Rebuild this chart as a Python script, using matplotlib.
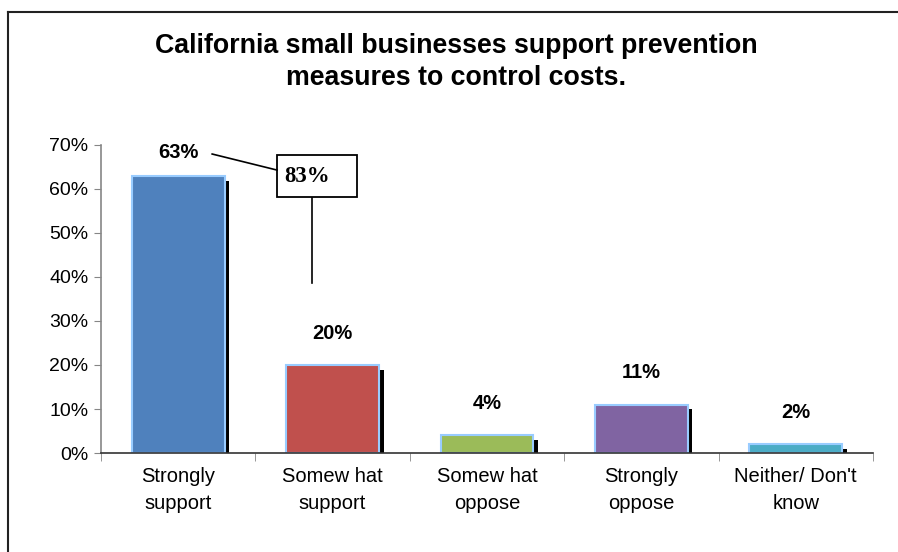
import matplotlib.pyplot as plt
from matplotlib.lines import Line2D
from matplotlib.patches import Rectangle
from matplotlib.ticker import PercentFormatter

plt.rcParams['font.family'] = ['Liberation Sans', 'DejaVu Sans']

# data
categories = ["Strongly\nsupport", "Somew hat\nsupport", "Somew hat\noppose",
              "Strongly\noppose", "Neither/ Don't\nknow"]
values = [0.63, 0.20, 0.04, 0.11, 0.02]
labels = ["63%", "20%", "4%", "11%", "2%"]
colors = ["#4F81BD", "#C0504D", "#9BBB59", "#8064A2", "#4BACC6"]
combined_label = "83%"

fig = plt.figure(figsize=(8.98, 5.52), dpi=100)
ax = fig.add_axes([101 / 898, 1 - 453 / 552, 772 / 898, 308 / 552])

x = list(range(len(values)))
# shadow bars
ax.bar([i + 0.03 for i in x], [v - 0.011 for v in values], width=0.6,
       color="black", zorder=1)
ax.bar(x, values, width=0.6, color=colors, edgecolor="#99CCFF",
       linewidth=1.5, zorder=2)

# value labels
for i, (v, lab) in enumerate(zip(values, labels)):
    off = 17 if i == 0 else 23
    ax.annotate(lab, (i, v), xytext=(0, off), textcoords="offset points",
                ha="center", va="center", fontsize=14.5, fontweight="bold")

# combined annotation (box + leader lines)
ax.add_patch(Rectangle((0.64, 0.582), 0.518, 0.095, facecolor="white",
                       edgecolor="black", linewidth=1.3, zorder=3, clip_on=False))
ax.text(0.685, 0.6295, combined_label, family=["Liberation Serif", "DejaVu Serif"],
        fontsize=16.5, fontweight="bold", va="center", ha="left", zorder=4)
ax.plot([0.22, 0.64], [0.6795, 0.643], color="black", lw=1.2, zorder=3,
        clip_on=False)
ax.plot([0.867, 0.867], [0.5795, 0.386], color="black", lw=1.2, zorder=3)

ax.set_xlim(-0.5, len(values) - 0.5)
ax.set_ylim(0, 0.7)
ax.set_yticks([i / 10 for i in range(8)])
ax.yaxis.set_major_formatter(PercentFormatter(1.0, decimals=0))
ax.set_xticks(x)
ax.set_xticklabels(categories, fontsize=14.5, linespacing=1.55)
ax.set_xticks([i - 0.5 for i in range(len(values) + 1)], minor=True)
ax.tick_params(axis="x", which="major", length=0, pad=10)
ax.tick_params(axis="x", which="minor", length=6, color="#868686")
ax.tick_params(axis="y", labelsize=14, length=5, color="#868686", pad=4)

for s in ["top", "right"]:
    ax.spines[s].set_visible(False)
ax.spines["left"].set_color("#868686")
ax.spines["left"].set_linewidth(1.2)
ax.spines["bottom"].set_color("#333333")
ax.spines["bottom"].set_linewidth(1.2)
ax.spines["bottom"].set_zorder(5)

fig.text(0.508, 1 - 62 / 552,
         "California small businesses support prevention\nmeasures to control costs.",
         ha="center", va="center", fontsize=19.3, fontweight="bold", linespacing=1.33)

# outer border (left and top)
bx, by = 8 / 898, 1 - 12 / 552
fig.add_artist(Line2D([bx, bx], [0, by], color="#222222", lw=1.5))
fig.add_artist(Line2D([bx, 1], [by, by], color="#222222", lw=1.5))

fig.savefig("out.png", dpi=100)
